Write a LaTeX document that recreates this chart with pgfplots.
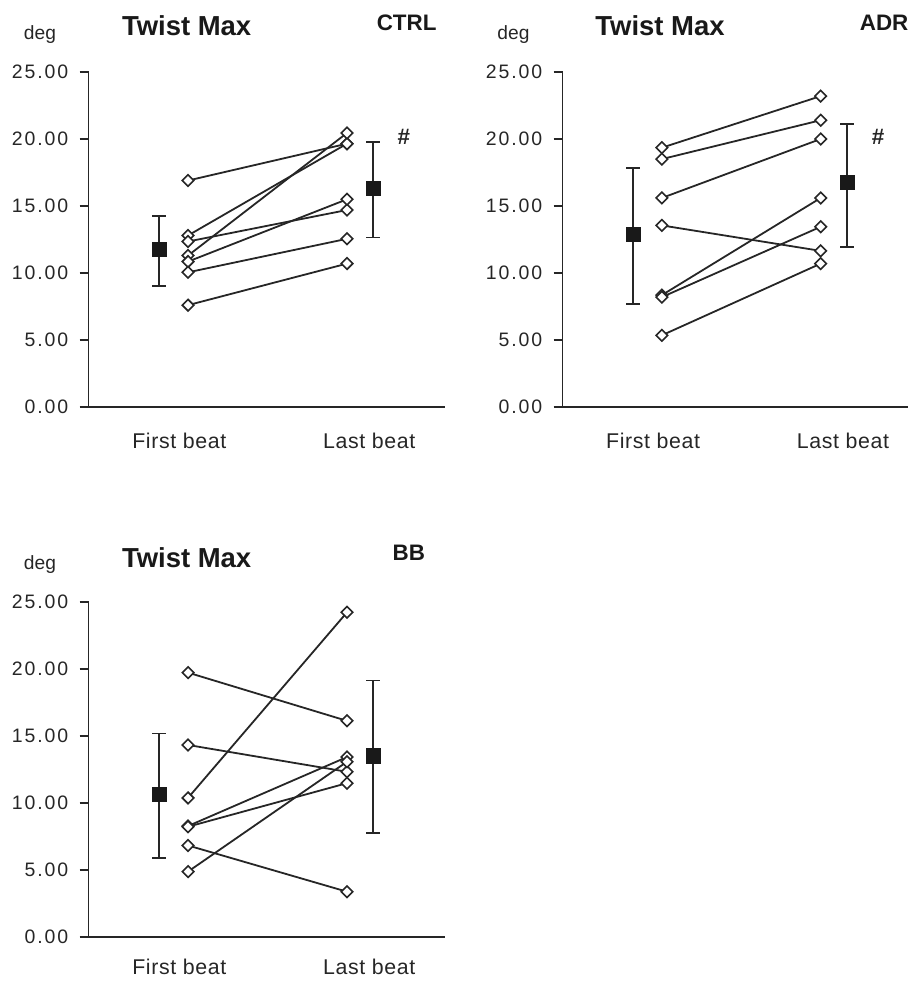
\documentclass[border=0pt]{standalone}
\usepackage{pgfplots}
\pgfplotsset{compat=1.18}
\usepackage{fontspec}
\setmainfont{Liberation Sans}
\newfontfamily\tickfont[LetterSpace=10]{Liberation Sans}
\newfontfamily\labfont[LetterSpace=3]{Liberation Sans}

\pgfplotsset{
  panel/.style={
    scale only axis, width=267.2pt, height=251.25pt,
    xmin=0.375, xmax=2.616, ymin=0, ymax=25,
    axis x line*=bottom, axis y line*=left,
    axis line style={-, line width=1.2pt, black!85},
    ytick={0,5,10,15,20,25},
    xtick={0.945,2.14}, xticklabels={First beat,Last beat},
    tick align=outside, major tick length=6.75pt,
    tick style={line width=1.2pt, black!85},
    xtick style={draw=none},
    /pgf/number format/assume math mode=true,
    yticklabel style={font=\tickfont\fontsize{14.6}{15}\selectfont, text=black!85,
      /pgf/number format/fixed, /pgf/number format/fixed zerofill,
      /pgf/number format/precision=2, xshift=-5pt},
    xticklabel style={font=\labfont\fontsize{16}{16}\selectfont, text=black!85,
      anchor=base, inner sep=0pt, yshift=-24.5pt},
    clip=false,
  },
  pair/.style={black!85, line width=1.35pt, mark=square*, mark size=3.05pt,
    mark options={fill=white, draw=black!85, rotate=45, line width=1.2pt, solid}},
  mean/.style={black!85, only marks, mark=square*, mark size=5.3pt,
    mark options={fill=black!90, draw=black!90},
    error bars/.cd, y dir=both, y explicit,
    error bar style={line width=1.3pt, black!85},
    error mark options={rotate=90, mark size=5pt, line width=1.3pt, black!85}},
}

\begin{document}
\begin{tikzpicture}
\useasboundingbox (0,0) rectangle (681.75pt,735.75pt);

% ---------------- CTRL ----------------
\begin{axis}[panel, at={(66.5pt,430.5pt)}, anchor=south west]
\addplot[mean] coordinates {(0.818,11.77) += (0,2.48) -= (0,2.72)
                            (2.164,16.32) += (0,3.43) -= (0,3.68)};
\addplot[pair] coordinates {(1,16.9) (2,19.65)};
\addplot[pair] coordinates {(1,12.8) (2,19.65)};
\addplot[pair] coordinates {(1,11.3) (2,20.45)};
\addplot[pair] coordinates {(1,12.35) (2,14.7)};
\addplot[pair] coordinates {(1,10.85) (2,15.5)};
\addplot[pair] coordinates {(1,10.05) (2,12.55)};
\addplot[pair] coordinates {(1,7.6) (2,10.7)};
\node[font=\bfseries\fontsize{16.8}{17}\selectfont, text=black!85] at (axis cs:2.358,20.15) {\#};
\end{axis}

% ---------------- ADR ----------------
\begin{axis}[panel, at={(422.0pt,430.5pt)}, anchor=south west, width=259.0pt, xmax=2.55]
\addplot[mean] coordinates {(0.817,12.89) += (0,4.92) -= (0,5.20)
                            (2.166,16.74) += (0,4.38) -= (0,4.80)};
\addplot[pair] coordinates {(1,19.35) (2,23.2)};
\addplot[pair] coordinates {(1,18.5) (2,21.4)};
\addplot[pair] coordinates {(1,15.6) (2,20.0)};
\addplot[pair] coordinates {(1,13.55) (2,11.65)};
\addplot[pair] coordinates {(1,8.35) (2,15.6)};
\addplot[pair] coordinates {(1,8.2) (2,13.45)};
\addplot[pair] coordinates {(1,5.35) (2,10.7)};
\node[font=\bfseries\fontsize{16.8}{17}\selectfont, text=black!85] at (axis cs:2.361,20.15) {\#};
\end{axis}

% ---------------- BB ----------------
\begin{axis}[panel, at={(66.5pt,32.8pt)}, anchor=south west,
  xticklabel style={yshift=3pt}]
\addplot[mean] coordinates {(0.818,10.66) += (0,4.55) -= (0,4.77)
                            (2.164,13.54) += (0,5.62) -= (0,5.74)};
\addplot[pair] coordinates {(1,19.75) (2,16.15)};
\addplot[pair] coordinates {(1,14.35) (2,12.35)};
\addplot[pair] coordinates {(1,10.4) (2,24.25)};
\addplot[pair] coordinates {(1,8.3) (2,13.45)};
\addplot[pair] coordinates {(1,8.25) (2,11.5)};
\addplot[pair] coordinates {(1,6.85) (2,3.4)};
\addplot[pair] coordinates {(1,4.9) (2,13.1)};
\end{axis}

% titles and labels
\node[anchor=base, font=\bfseries\fontsize{20.6}{21}\selectfont, text=black!90] at (140pt,708.75pt) {Twist Max};
\node[anchor=base, font=\bfseries\fontsize{16.8}{17}\selectfont, text=black!90] at (305pt,712.5pt) {CTRL};
\node[anchor=base, font=\fontsize{14.4}{15}\selectfont, text=black!85] at (30pt,705.75pt) {deg};

\node[anchor=base, font=\bfseries\fontsize{20.6}{21}\selectfont, text=black!90] at (495pt,708.75pt) {Twist Max};
\node[anchor=base east, font=\bfseries\fontsize{16.8}{17}\selectfont, text=black!90, inner sep=0pt] at (681.5pt,712.5pt) {ADR};
\node[anchor=base, font=\fontsize{14.4}{15}\selectfont, text=black!85] at (385.1pt,705.75pt) {deg};

\node[anchor=base, font=\bfseries\fontsize{20.6}{21}\selectfont, text=black!90] at (140pt,310pt) {Twist Max};
\node[anchor=base, font=\bfseries\fontsize{16.8}{17}\selectfont, text=black!90] at (306.6pt,315.2pt) {BB};
\node[anchor=base, font=\fontsize{14.4}{15}\selectfont, text=black!85] at (30pt,308.25pt) {deg};
\end{tikzpicture}
\end{document}
